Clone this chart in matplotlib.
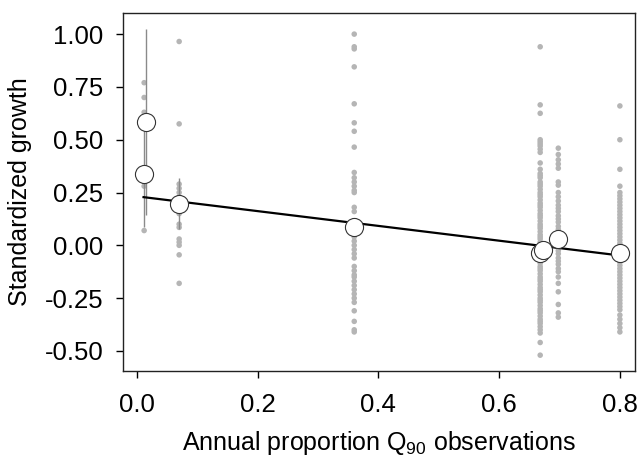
import numpy as np
import matplotlib
matplotlib.use("Agg")
import matplotlib.pyplot as plt

plt.rcParams['font.family'] = ['Liberation Sans', 'DejaVu Sans']
plt.rcParams['mathtext.default'] = 'regular'

# grey points: one column per site (x = annual proportion of Q90 observations)
site_x = [0.012, 0.07, 0.36, 0.668, 0.698, 0.80]
site_growth = [
    [0.77, 0.70, 0.63, 0.60, 0.30, 0.28, 0.07],
    [0.965, 0.575, 0.29, 0.27, 0.25, 0.23, 0.21, 0.18, 0.15, 0.10, 0.085,
     0.03, 0.015, 0.0, -0.045, -0.18],
    [1.00, 0.94, 0.93, 0.845, 0.67, 0.58, 0.54, 0.465, 0.345, 0.32, 0.30,
     0.28, 0.26, 0.25, 0.18, 0.16, 0.10, 0.06, 0.04, 0.02, 0.0, -0.02,
     -0.04, -0.06, -0.10, -0.12, -0.14, -0.15, -0.17, -0.19, -0.21, -0.23,
     -0.25, -0.27, -0.31, -0.36, -0.40, -0.41],
    [0.94, 0.665, 0.625, 0.50, 0.49, 0.48, 0.47, 0.455, 0.44, 0.39, 0.36,
     0.34, 0.33, 0.32, 0.30, 0.29, 0.28, 0.265, 0.25, 0.24, 0.23, 0.215,
     0.20, 0.19, 0.18, 0.165, 0.15, 0.14, 0.13, 0.115, 0.10, 0.09, 0.08,
     0.065, 0.05, 0.04, 0.03, 0.015, 0.0, -0.01, -0.02, -0.035, -0.05,
     -0.06, -0.07, -0.085, -0.10, -0.11, -0.12, -0.135, -0.15, -0.16,
     -0.17, -0.185, -0.20, -0.21, -0.22, -0.235, -0.25, -0.26, -0.27,
     -0.285, -0.30, -0.31, -0.32, -0.335, -0.35, -0.36, -0.37, -0.385,
     -0.40, -0.415, -0.46, -0.52],
    [0.46, 0.43, 0.405, 0.385, 0.365, 0.30, 0.285, 0.25, 0.23, 0.21, 0.19,
     0.175, 0.16, 0.14, 0.125, 0.11, 0.09, 0.075, 0.06, 0.04, 0.025, 0.01,
     -0.01, -0.025, -0.04, -0.06, -0.075, -0.09, -0.11, -0.125, -0.15,
     -0.18, -0.22, -0.28, -0.32, -0.34],
    [0.66, 0.50, 0.36, 0.28, 0.25, 0.235, 0.22, 0.205, 0.19, 0.175, 0.16,
     0.145, 0.13, 0.115, 0.10, 0.085, 0.07, 0.055, 0.04, 0.025, 0.01,
     -0.005, -0.02, -0.035, -0.05, -0.065, -0.08, -0.095, -0.11, -0.125,
     -0.14, -0.155, -0.17, -0.185, -0.20, -0.215, -0.23, -0.245, -0.26,
     -0.275, -0.29, -0.305, -0.33, -0.35, -0.37, -0.39, -0.41],
]

# open circles: annual means with error bars
mean_x = [0.011, 0.015, 0.07, 0.36, 0.667, 0.672, 0.698, 0.80]
mean_y = [0.336, 0.585, 0.197, 0.085, -0.038, -0.022, 0.028, -0.038]
mean_err = [0.25, 0.44, 0.12, 0.04, 0.02, 0.02, 0.03, 0.02]

# fitted line
fit_intercept = 0.232
fit_slope = -0.35

fig = plt.figure(figsize=(6.39, 4.59), dpi=100)
ax = fig.add_axes([0.1925, 0.1917, 0.8012, 0.78])

for x, vals in zip(site_x, site_growth):
    ax.scatter(np.full(len(vals), x), vals, s=16, color='#b5b5b5',
               edgecolors='none', zorder=2)

ax.errorbar(mean_x, mean_y, yerr=mean_err, fmt='none', ecolor='#8a8a8a',
            elinewidth=1.0, capsize=0, zorder=3)

fx = np.array([min(mean_x), max(mean_x)])
ax.plot(fx, fit_intercept + fit_slope * fx, color='black', lw=1.6, zorder=4)

ax.scatter(mean_x, mean_y, s=170, facecolor='white', edgecolor='#333333',
           linewidths=0.8, zorder=5)

ax.set_xlim(-0.023, 0.825)
ax.set_ylim(-0.595, 1.10)
ax.set_xticks([0.0, 0.2, 0.4, 0.6, 0.8])
ax.set_xticklabels(['0.0', '0.2', '0.4', '0.6', '0.8'])
yt = [1.00, 0.75, 0.50, 0.25, 0.00, -0.25, -0.50]
ax.set_yticks(yt)
ax.set_yticklabels(['%.2f' % v for v in yt])
ax.tick_params(direction='out', length=5, width=1, labelsize=18.5,
               colors='black')
ax.tick_params(axis='x', pad=11)
ax.tick_params(axis='y', pad=9)
for sp in ax.spines.values():
    sp.set_linewidth(1.0)
    sp.set_color('#222222')

ax.set_xlabel('Annual proportion Q$_{90}$ observations', fontsize=18)
ax.set_ylabel('Standardized growth', fontsize=18)
ax.xaxis.set_label_coords(0.5, -0.163)
ax.yaxis.set_label_coords(-0.178, 0.5)

fig.savefig('out.png', dpi=100)
